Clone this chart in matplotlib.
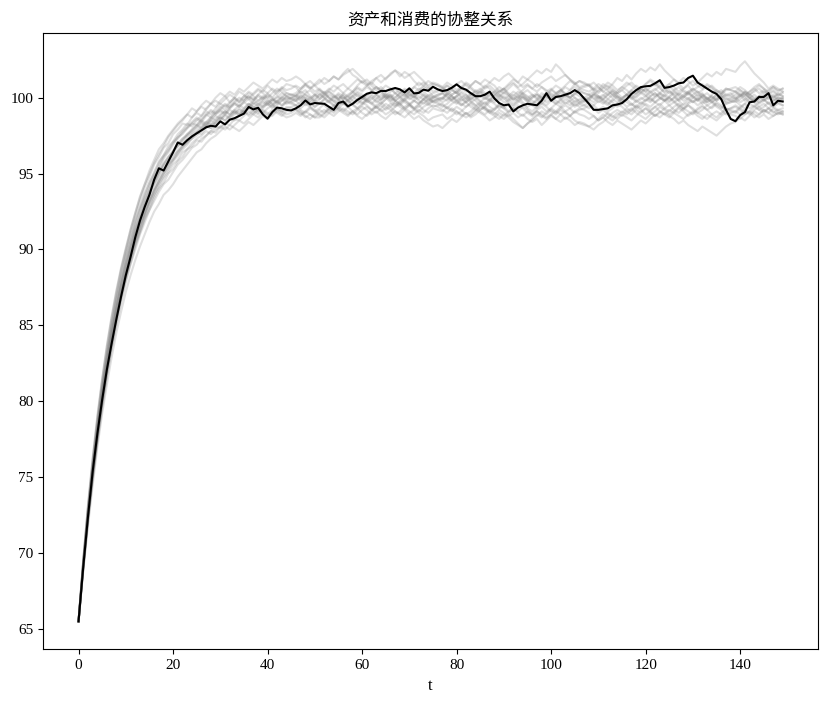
import numpy as np
import matplotlib
matplotlib.use("Agg")
import matplotlib.pyplot as plt

plt.rcParams['font.family'] = ['Liberation Serif', 'Noto Sans CJK SC', 'DejaVu Sans']

title = "资产和消费的协整关系"
xlabel = "t"

# highlighted path
black_path = [
    65.5, 69.1, 72.4, 75.4, 77.9, 80.1, 82.1, 83.8, 85.4, 86.9,
    88.3, 89.5, 90.8, 91.9, 92.8, 93.6, 94.6, 95.35, 95.2, 95.8,
    96.4, 97.05, 96.9, 97.2, 97.45, 97.65, 97.85, 98.05, 98.15, 98.1,
    98.44, 98.24, 98.55, 98.65, 98.8, 98.95, 99.39, 99.23, 99.34, 98.9,
    98.62, 99.05, 99.35, 99.3, 99.2, 99.16, 99.3, 99.5, 99.82, 99.56,
    99.65, 99.62, 99.6, 99.4, 99.2, 99.65, 99.75, 99.43, 99.6, 99.85,
    100.05, 100.26, 100.35, 100.3, 100.45, 100.44, 100.55, 100.64, 100.55, 100.35,
    100.62, 100.28, 100.32, 100.53, 100.46, 100.72, 100.55, 100.44, 100.5, 100.66,
    100.88, 100.64, 100.53, 100.3, 100.1, 100.1, 100.2, 100.4, 99.95, 99.65,
    99.5, 99.55, 99.1, 99.35, 99.5, 99.6, 99.55, 99.5, 99.8, 100.3,
    99.8, 100.05, 100.1, 100.2, 100.3, 100.5, 100.3, 99.95, 99.6, 99.2,
    99.2, 99.25, 99.3, 99.5, 99.55, 99.65, 99.9, 100.25, 100.5, 100.7,
    100.75, 100.78, 100.95, 101.15, 100.65, 100.7, 100.8, 100.95, 101.0, 101.3,
    101.45, 101.0, 100.8, 100.6, 100.4, 100.25, 99.9, 99.2, 98.6, 98.45,
    98.85, 99.05, 99.7, 99.75, 100.05, 100.05, 100.3, 99.5, 99.8, 99.75,
]

# the grey paths (estimated, individual lines can't be told apart exactly)
g01 = [65.5, 69.5, 73.0, 76.1, 78.9, 81.3, 83.4, 85.3, 87.0, 88.6, 89.9, 91.1, 92.2, 93.2, 94.1,
       94.8, 95.6, 96.1, 96.7, 97.0, 97.6, 97.9, 98.3, 98.2, 98.7, 99.0, 98.8, 99.3, 99.6, 99.4,
       99.8, 100.1, 99.7, 100.0, 100.4, 100.2, 99.9, 100.3, 100.6, 100.4, 100.8, 100.5, 100.2, 100.6, 100.9, 100.8,
       100.7, 100.3, 100.5, 100.1, 99.8, 100.2, 100.4, 100.0, 99.7, 99.9, 100.3, 100.6, 100.4, 100.8, 101.1,
       100.9, 100.5, 100.7, 100.4, 100.0, 100.2, 99.8, 99.6, 99.9, 100.2, 100.0, 100.4, 100.7, 100.5, 100.1, 100.0,
       99.9, 100.3, 100.1, 99.7, 99.5, 99.8, 100.1, 100.5, 100.3, 100.7, 101.0, 100.8, 100.4, 100.6, 100.2,
       99.9, 100.1, 99.7, 99.4, 99.6, 99.9, 100.3, 100.1, 100.5, 100.8, 100.6, 100.2, 100.0, 100.3, 100.1, 99.9,
       99.8, 100.2, 100.5, 100.9, 100.7, 100.4, 100.1, 99.8, 100.0, 100.4, 100.2, 100.6, 100.9, 101.2, 101.0,
       100.7, 100.3, 100.5, 100.1, 99.8, 100.0, 100.3, 100.6, 100.4, 100.0, 99.7, 99.9, 100.2, 100.0, 99.6, 99.7,
       99.8, 100.1, 100.4, 100.2, 100.5, 100.8, 100.6, 100.3, 100.5, 100.2, 100.4]
g02 = [65.5, 69.3, 72.6, 75.5, 78.2, 80.6, 82.6, 84.6, 86.2, 87.7, 89.1, 90.2, 91.4, 92.3, 93.3,
       94.0, 94.8, 95.3, 96.0, 96.4, 96.9, 97.4, 97.6, 98.0, 98.3, 98.2, 98.6, 98.9, 98.7, 99.1,
       99.4, 99.2, 99.6, 99.9, 99.7, 100.1, 100.0, 99.8, 100.2, 100.5, 100.3, 100.0, 100.4, 100.6, 100.3, 100.2,
       100.1, 100.5, 100.8, 100.6, 100.9, 101.2, 100.9, 101.1, 101.4, 101.2, 101.6, 101.9, 101.5, 101.3, 101.0,
       101.2, 100.9, 101.3, 101.5, 101.2, 101.6, 101.8, 101.4, 101.7, 101.5, 101.1, 100.8, 101.0, 100.7, 100.4, 100.5,
       100.6, 100.2, 99.9, 100.1, 100.4, 100.2, 99.8, 99.5, 99.7, 100.0, 99.8, 100.2, 100.5, 100.3, 100.6,
       100.9, 100.6, 100.3, 100.0, 100.2, 99.9, 99.6, 99.9, 100.3, 100.1, 100.4, 100.7, 100.5, 100.9, 101.1, 101.0,
       100.8, 101.0, 100.7, 100.4, 100.6, 100.9, 101.3, 101.1, 101.5, 101.2, 101.6, 101.9, 101.7, 102.0, 101.8,
       102.2, 101.8, 101.5, 101.2, 100.9, 100.6, 100.8, 100.4, 100.1, 100.3, 99.9, 99.7, 100.0, 100.3, 100.1, 100.2,
       100.4, 100.2, 99.8, 100.0, 99.7, 99.9, 100.2, 99.9, 100.1, 99.8, 100.0]
g03 = [65.5, 69.0, 72.2, 75.0, 77.5, 79.8, 81.8, 83.6, 85.2, 86.7, 88.0, 89.1, 90.2, 91.1, 92.0,
       92.6, 93.4, 94.0, 94.4, 95.0, 95.3, 95.8, 96.1, 96.6, 96.8, 97.2, 97.1, 97.5, 97.8, 97.7,
       98.1, 98.3, 98.2, 98.6, 98.5, 98.8, 99.1, 98.9, 99.2, 99.0, 99.3, 99.5, 99.2, 99.4, 99.7, 99.6,
       99.5, 99.2, 99.0, 99.3, 99.1, 98.8, 99.0, 99.3, 99.1, 99.4, 99.2, 98.9, 99.1, 98.8, 98.6,
       98.9, 99.2, 99.0, 99.3, 99.6, 99.4, 99.1, 98.9, 99.2, 98.9, 98.6, 98.8, 98.5, 98.3, 98.1, 98.2,
       98.0, 98.3, 98.6, 98.4, 98.7, 99.0, 98.8, 99.1, 99.4, 99.2, 99.0, 98.8, 98.6, 98.9, 98.7,
       98.4, 98.2, 98.0, 98.3, 98.6, 98.9, 98.7, 99.0, 99.3, 99.1, 99.4, 99.7, 99.5, 99.8, 99.6, 99.5,
       99.3, 99.5, 99.8, 99.6, 99.9, 100.2, 100.0, 99.7, 99.9, 99.6, 99.4, 99.7, 99.5, 99.2, 99.4,
       99.1, 98.9, 99.2, 99.0, 99.3, 99.1, 98.8, 99.0, 99.3, 99.5, 99.2, 99.4, 99.7, 99.5, 99.2, 99.1,
       99.0, 99.3, 99.1, 98.9, 99.2, 99.4, 99.1, 99.3, 99.0, 99.2, 99.1]
g04 = [65.5, 69.6, 73.2, 76.3, 79.1, 81.5, 83.7, 85.6, 87.3, 88.8, 90.1, 91.3, 92.4, 93.4, 94.3,
       95.0, 95.7, 96.3, 96.8, 97.4, 97.8, 98.2, 98.5, 98.9, 98.7, 99.1, 99.4, 99.2, 99.6, 99.8,
       99.6, 99.9, 100.2, 100.0, 99.7, 99.9, 100.3, 100.1, 99.8, 100.0, 99.7, 99.5, 99.8, 100.1, 99.9, 100.0,
       100.2, 100.0, 99.7, 99.5, 99.8, 99.6, 99.9, 100.2, 100.0, 100.3, 100.1, 99.8, 100.1, 100.4, 100.2,
       99.9, 100.1, 99.8, 99.6, 99.9, 100.2, 100.0, 100.3, 100.6, 100.4, 100.1, 99.9, 100.2, 100.0, 99.7, 99.8,
       99.9, 100.2, 100.5, 100.3, 100.6, 100.4, 100.8, 101.1, 100.9, 100.6, 100.8, 100.5, 100.3, 100.6, 100.9,
       101.2, 101.0, 101.4, 101.2, 101.5, 101.8, 101.6, 101.9, 101.7, 102.2, 101.9, 101.5, 101.2, 100.9, 101.1, 100.9,
       100.8, 100.5, 100.7, 100.4, 100.2, 100.5, 100.3, 100.0, 100.2, 100.5, 100.8, 100.6, 100.9, 101.1, 100.8,
       101.0, 100.7, 100.9, 101.2, 101.0, 101.3, 101.1, 100.8, 101.0, 101.3, 101.6, 101.4, 101.7, 101.5, 101.9, 101.8,
       101.7, 102.1, 102.4, 102.0, 101.6, 101.3, 101.0, 100.6, 100.8, 100.6, 100.4]
g05 = [65.5, 69.1, 72.3, 75.2, 77.8, 80.1, 82.2, 84.0, 85.6, 87.1, 88.4, 89.6, 90.6, 91.6, 92.4,
       93.2, 93.8, 94.5, 95.0, 95.4, 95.9, 96.3, 96.8, 97.0, 97.4, 97.7, 97.6, 98.0, 98.3, 98.2,
       98.5, 98.8, 98.6, 98.9, 99.2, 99.0, 99.3, 99.6, 99.4, 99.7, 99.5, 99.8, 100.1, 99.9, 99.6, 99.7,
       99.8, 100.1, 99.9, 99.6, 99.4, 99.7, 99.5, 99.2, 99.4, 99.7, 100.0, 99.8, 99.5, 99.3, 99.6,
       99.9, 100.2, 100.0, 99.8, 100.1, 99.9, 99.6, 99.4, 99.2, 99.5, 99.3, 99.6, 99.9, 99.7, 100.0, 100.2,
       100.3, 100.1, 99.8, 99.6, 99.9, 99.7, 99.4, 99.2, 99.5, 99.3, 99.0, 99.2, 99.5, 99.3, 99.6,
       99.4, 99.7, 100.0, 99.8, 99.5, 99.3, 99.6, 99.4, 99.1, 98.9, 99.2, 99.0, 98.8, 99.1, 98.9, 98.8,
       98.6, 98.8, 98.5, 98.7, 98.4, 98.2, 98.5, 98.3, 98.1, 97.9, 98.2, 98.5, 98.3, 98.6, 98.9,
       98.7, 99.0, 98.8, 98.6, 98.3, 98.5, 98.2, 98.0, 97.8, 98.1, 97.9, 97.7, 97.5, 97.8, 98.1, 98.3,
       98.4, 98.7, 98.5, 98.8, 99.1, 98.9, 99.2, 99.0, 99.3, 99.1, 99.0]
g06 = [65.5, 68.9, 72.0, 74.8, 77.3, 79.5, 81.6, 83.4, 85.0, 86.5, 87.8, 89.0, 90.0, 91.0, 91.8,
       92.6, 93.2, 93.8, 94.3, 94.6, 95.1, 95.6, 95.9, 96.3, 96.7, 96.9, 97.3, 97.5, 97.8, 98.1,
       98.0, 98.3, 98.6, 98.5, 98.8, 99.1, 98.9, 99.2, 99.0, 99.3, 99.6, 99.4, 99.7, 99.5, 99.8, 100.0,
       100.1, 99.9, 100.2, 100.0, 99.7, 99.9, 100.2, 100.0, 99.8, 99.5, 99.7, 99.4, 99.6, 99.9, 99.7,
       99.5, 99.2, 99.4, 99.1, 99.3, 99.6, 99.4, 99.7, 99.9, 99.6, 99.8, 100.1, 99.9, 99.6, 99.4, 99.5,
       99.6, 99.3, 99.1, 99.4, 99.2, 98.9, 99.1, 99.4, 99.6, 99.3, 99.1, 98.9, 99.2, 99.0, 98.8,
       99.0, 98.7, 98.9, 98.6, 98.4, 98.6, 98.2, 98.5, 98.8, 98.6, 98.9, 99.1, 98.8, 98.5, 98.3, 98.2,
       98.1, 97.9, 98.2, 98.4, 98.7, 98.5, 98.8, 99.1, 98.9, 99.2, 99.5, 99.3, 99.6, 99.4, 99.7,
       100.0, 99.8, 99.5, 99.7, 99.4, 99.6, 99.9, 99.7, 100.0, 99.8, 99.5, 99.3, 99.6, 99.4, 99.2, 99.3,
       99.5, 99.3, 99.6, 99.9, 99.7, 99.4, 99.6, 99.3, 99.5, 99.7, 99.5]
g07 = [65.5, 69.5, 73.1, 76.2, 78.9, 81.4, 83.6, 85.5, 87.2, 88.7, 90.0, 91.3, 92.4, 93.5, 94.3,
       95.2, 95.9, 96.6, 97.0, 97.5, 97.9, 98.3, 98.6, 98.9, 99.3, 99.1, 99.5, 99.8, 99.6, 100.0,
       100.3, 100.1, 100.4, 100.2, 100.6, 100.4, 100.7, 101.0, 100.8, 100.6, 100.9, 101.2, 101.0, 101.3, 101.1, 101.2,
       101.4, 101.2, 100.9, 100.6, 100.8, 100.5, 100.2, 100.4, 100.1, 99.9, 100.2, 100.0, 100.3, 100.6, 100.4,
       100.7, 100.5, 100.2, 100.4, 100.1, 99.8, 100.0, 100.3, 100.1, 100.4, 100.7, 100.5, 100.8, 100.6, 100.9, 100.8,
       100.7, 101.0, 100.8, 100.5, 100.7, 101.0, 100.8, 101.1, 100.9, 101.2, 101.0, 101.3, 101.1, 101.4, 101.6,
       101.3, 101.0, 100.7, 100.9, 100.6, 100.4, 100.7, 100.5, 100.2, 100.0, 100.3, 100.1, 99.8, 100.0, 99.7, 99.8,
       99.9, 100.2, 100.0, 99.7, 99.5, 99.8, 100.1, 99.9, 100.2, 100.5, 100.3, 100.6, 100.4, 100.1, 100.3,
       100.0, 99.8, 100.1, 100.4, 100.2, 100.5, 100.3, 100.0, 99.8, 100.1, 99.9, 100.2, 100.5, 100.3, 100.6, 100.5,
       100.4, 100.1, 100.3, 100.0, 99.8, 100.1, 100.4, 100.2, 100.0, 100.3, 100.1]
g08 = [65.5, 69.2, 72.5, 75.4, 78.0, 80.3, 82.4, 84.3, 85.9, 87.4, 88.7, 89.9, 91.0, 91.9, 92.8,
       93.6, 94.3, 94.9, 95.5, 95.9, 96.4, 96.8, 97.1, 97.5, 97.7, 98.0, 98.3, 98.1, 98.5, 98.8,
       98.6, 98.9, 99.2, 99.0, 99.3, 99.1, 99.4, 99.7, 99.5, 99.8, 99.6, 99.3, 99.5, 99.8, 100.0, 99.9,
       99.8, 99.5, 99.7, 100.0, 100.2, 99.9, 100.1, 100.4, 100.2, 99.9, 100.1, 99.8, 99.6, 99.9, 100.1,
       99.8, 99.6, 99.9, 100.2, 100.0, 99.7, 99.5, 99.8, 100.0, 100.3, 100.1, 99.8, 99.6, 99.9, 99.7, 99.6,
       99.4, 99.6, 99.9, 100.1, 99.8, 100.0, 100.3, 100.1, 99.8, 99.6, 99.9, 100.2, 100.0, 99.7, 99.9,
       100.2, 100.0, 100.3, 100.5, 100.2, 100.0, 99.8, 100.1, 99.9, 99.6, 99.8, 100.1, 100.3, 100.0, 99.8, 99.9,
       100.0, 100.3, 100.1, 99.8, 99.6, 99.9, 99.7, 100.0, 100.2, 99.9, 100.1, 100.4, 100.2, 99.9, 99.7,
       99.9, 100.2, 100.0, 99.7, 99.9, 100.2, 100.4, 100.1, 99.9, 99.6, 99.8, 100.1, 99.9, 100.2, 100.0, 99.8,
       99.7, 99.9, 100.2, 100.0, 99.8, 100.1, 99.9, 99.6, 99.8, 100.0, 99.9]
g09 = [65.5, 69.0, 72.3, 75.1, 77.7, 80.0, 82.0, 83.9, 85.5, 87.0, 88.3, 89.5, 90.5, 91.5, 92.3,
       93.1, 93.9, 94.4, 95.0, 95.6, 95.9, 96.4, 96.7, 97.1, 97.3, 97.7, 97.9, 98.2, 98.0, 98.4,
       98.7, 98.5, 98.8, 99.1, 98.9, 99.1, 98.8, 99.0, 99.3, 99.1, 98.9, 99.2, 99.0, 98.8, 99.1, 99.2,
       99.3, 99.1, 98.8, 98.6, 98.9, 99.2, 99.0, 99.3, 99.5, 99.2, 99.0, 98.8, 99.1, 99.3, 99.0,
       98.8, 99.1, 99.4, 99.2, 98.9, 99.1, 99.4, 99.6, 99.3, 99.1, 98.9, 99.2, 99.0, 99.3, 99.5, 99.4,
       99.2, 99.0, 99.3, 99.1, 98.8, 99.0, 98.7, 98.9, 99.2, 99.4, 99.1, 99.3, 99.6, 99.4, 99.1,
       99.3, 99.0, 98.8, 99.1, 98.9, 99.2, 99.4, 99.1, 99.3, 99.6, 99.4, 99.1, 99.3, 99.0, 99.2, 99.3,
       99.5, 99.3, 99.0, 99.2, 98.9, 98.7, 99.0, 98.8, 99.1, 99.3, 99.0, 98.8, 98.6, 98.9, 99.1,
       99.4, 99.2, 98.9, 99.1, 99.4, 99.2, 99.5, 99.3, 99.0, 99.2, 99.5, 99.7, 99.4, 99.2, 98.9, 99.0,
       99.1, 98.9, 99.2, 99.0, 98.7, 98.9, 99.2, 99.0, 98.8, 99.0, 98.9]
g10 = [65.5, 69.4, 72.9, 75.9, 78.6, 81.0, 83.1, 85.0, 86.7, 88.2, 89.6, 90.8, 91.9, 92.8, 93.7,
       94.4, 95.1, 95.8, 96.2, 96.8, 97.1, 97.6, 97.9, 98.3, 98.1, 98.5, 98.8, 99.1, 98.9, 99.3,
       99.6, 99.4, 99.7, 100.0, 99.8, 100.1, 100.4, 100.2, 100.5, 100.3, 100.0, 100.3, 100.6, 100.4, 100.1, 100.2,
       100.3, 100.6, 100.9, 100.7, 100.4, 100.6, 100.3, 100.5, 100.8, 100.6, 100.3, 100.1, 100.4, 100.7, 100.5,
       100.8, 101.0, 100.7, 100.5, 100.8, 100.6, 100.3, 100.5, 100.2, 100.4, 100.7, 101.0, 100.8, 101.1, 100.9, 100.8,
       100.6, 100.8, 100.5, 100.3, 100.6, 100.9, 100.7, 100.4, 100.6, 100.3, 100.1, 100.4, 100.2, 99.9, 100.1,
       100.4, 100.2, 100.5, 100.8, 100.6, 100.9, 100.7, 100.4, 100.6, 100.3, 100.5, 100.8, 101.1, 100.9, 100.6, 100.7,
       100.8, 100.5, 100.3, 100.6, 100.8, 100.6, 100.3, 100.5, 100.8, 101.0, 100.7, 100.4, 100.6, 100.3, 100.5,
       100.8, 100.6, 100.3, 100.5, 100.7, 100.4, 100.2, 100.5, 100.7, 100.9, 100.6, 100.8, 100.5, 100.3, 100.6, 100.5,
       100.4, 100.7, 100.5, 100.2, 100.4, 100.6, 100.3, 100.5, 100.7, 100.4, 100.6]
g11 = [65.5, 69.2, 72.4, 75.3, 77.9, 80.2, 82.3, 84.1, 85.8, 87.2, 88.5, 89.7, 90.7, 91.7, 92.5,
       93.3, 94.0, 94.7, 95.2, 95.7, 96.2, 96.5, 96.9, 97.3, 97.6, 97.8, 98.1, 98.4, 98.2, 98.6,
       98.9, 99.1, 98.9, 99.2, 99.5, 99.3, 99.6, 99.4, 99.2, 99.5, 99.8, 99.6, 99.3, 99.1, 99.4, 99.3,
       99.2, 98.9, 99.1, 99.4, 99.2, 98.9, 98.7, 99.0, 99.3, 99.5, 99.8, 99.6, 99.9, 100.2, 100.0,
       99.7, 99.9, 100.2, 100.0, 100.3, 100.1, 99.8, 99.6, 99.3, 99.5, 99.2, 99.4, 99.7, 99.5, 99.8, 99.9,
       100.0, 99.8, 100.1, 99.9, 99.6, 99.4, 99.7, 99.5, 99.2, 99.4, 99.7, 99.9, 100.2, 100.0, 99.7,
       99.5, 99.8, 99.6, 99.3, 99.1, 99.4, 99.7, 99.5, 99.8, 100.1, 99.9, 99.6, 99.8, 99.5, 99.7, 99.8,
       100.0, 100.2, 99.9, 100.1, 100.4, 100.2, 99.9, 99.7, 99.4, 99.6, 99.3, 99.5, 99.8, 100.0, 99.7,
       99.5, 99.8, 100.0, 99.8, 99.5, 99.3, 99.6, 99.8, 99.5, 99.7, 100.0, 99.8, 99.5, 99.3, 99.6, 99.7,
       99.8, 99.5, 99.3, 99.6, 99.4, 99.7, 99.9, 99.6, 99.4, 99.6, 99.5]
g12 = [65.5, 69.4, 72.8, 75.8, 78.5, 80.9, 83.0, 84.9, 86.6, 88.1, 89.5, 90.6, 91.8, 92.7, 93.6,
       94.4, 95.0, 95.7, 96.2, 96.6, 97.1, 97.4, 97.8, 98.1, 98.4, 98.7, 98.5, 98.9, 99.2, 99.0,
       99.3, 99.6, 99.4, 99.7, 100.0, 99.8, 100.1, 99.9, 99.6, 99.9, 100.1, 99.8, 100.0, 100.3, 100.1, 99.9,
       99.8, 100.0, 100.3, 100.5, 100.2, 100.0, 100.3, 100.6, 100.4, 100.7, 100.9, 100.6, 100.9, 101.2, 101.0,
       100.8, 101.1, 101.3, 101.0, 101.3, 101.5, 101.8, 101.6, 101.3, 101.5, 101.7, 101.4, 101.1, 100.8, 101.0, 100.9,
       100.7, 100.4, 100.6, 100.3, 100.0, 100.2, 99.9, 100.1, 100.4, 100.2, 99.9, 99.7, 100.0, 100.3, 100.1,
       99.8, 100.0, 100.3, 100.1, 99.8, 99.6, 99.9, 100.2, 100.0, 100.3, 100.5, 100.2, 100.0, 99.7, 99.9, 100.0,
       100.2, 100.0, 99.7, 99.9, 100.2, 100.4, 100.1, 99.9, 100.2, 100.0, 99.7, 99.9, 100.1, 99.8, 100.1,
       100.3, 100.1, 99.8, 100.0, 100.3, 100.1, 99.9, 100.2, 100.4, 100.2, 99.9, 100.1, 99.8, 100.0, 100.2, 100.1,
       99.9, 100.1, 100.4, 100.2, 100.0, 99.7, 99.9, 100.1, 99.8, 100.0, 99.9]
g13 = [65.5, 69.1, 72.4, 75.2, 77.8, 80.1, 82.1, 84.0, 85.7, 87.1, 88.4, 89.6, 90.6, 91.6, 92.4,
       93.2, 93.9, 94.5, 95.1, 95.6, 96.0, 96.5, 96.8, 97.1, 97.5, 97.7, 98.0, 98.2, 98.5, 98.3,
       98.6, 98.9, 98.7, 99.0, 98.8, 99.1, 99.3, 99.1, 98.9, 99.2, 99.0, 98.8, 99.1, 98.9, 98.7, 98.8,
       99.0, 98.8, 99.1, 98.9, 98.7, 98.7, 98.9, 99.2, 99.0, 99.3, 99.1, 99.4, 99.6, 99.3, 99.5,
       99.8, 99.6, 99.3, 99.5, 99.2, 99.4, 99.7, 99.5, 99.8, 99.6, 99.3, 99.5, 99.2, 99.0, 99.3, 99.2,
       99.1, 99.4, 99.2, 98.9, 99.1, 99.4, 99.6, 99.3, 99.1, 98.9, 99.2, 99.0, 98.8, 98.6, 98.9,
       98.6, 98.3, 98.0, 98.3, 98.5, 98.8, 99.1, 98.9, 99.2, 99.0, 99.3, 99.5, 99.3, 99.6, 99.4, 99.5,
       99.7, 99.5, 99.2, 99.4, 99.1, 99.3, 99.6, 99.4, 99.1, 98.9, 99.2, 99.0, 99.3, 99.1, 98.8,
       99.0, 99.3, 99.1, 99.4, 99.6, 99.3, 99.5, 99.2, 99.0, 98.8, 98.6, 98.9, 99.1, 98.9, 99.2, 99.3,
       99.4, 99.2, 98.9, 99.1, 99.4, 99.2, 99.0, 99.3, 99.1, 98.9, 99.1]
g14 = [65.5, 69.3, 72.7, 75.6, 78.2, 80.6, 82.7, 84.5, 86.2, 87.7, 89.0, 90.2, 91.3, 92.2, 93.1,
       93.9, 94.6, 95.1, 95.7, 96.1, 96.5, 97.0, 97.3, 97.6, 97.9, 98.2, 98.5, 98.3, 98.7, 99.0,
       99.2, 99.0, 99.4, 99.7, 99.5, 99.8, 100.1, 99.9, 100.2, 100.0, 100.3, 100.6, 100.4, 100.7, 100.5, 100.6,
       100.8, 100.6, 100.9, 101.1, 100.8, 101.0, 101.3, 101.1, 101.4, 101.2, 101.5, 101.7, 101.9, 101.6, 101.3,
       101.0, 100.8, 100.5, 100.7, 100.4, 100.6, 100.3, 100.0, 100.2, 99.9, 100.1, 100.4, 100.2, 99.9, 100.1, 100.2,
       100.3, 100.0, 99.8, 100.1, 100.3, 100.0, 99.7, 99.9, 100.2, 100.0, 99.8, 100.1, 100.4, 100.6, 100.3,
       100.1, 100.4, 100.2, 99.9, 100.1, 100.3, 100.0, 100.2, 100.5, 100.3, 100.0, 100.2, 100.5, 100.7, 100.4, 100.3,
       100.2, 100.4, 100.1, 99.9, 100.2, 100.0, 100.3, 100.5, 100.2, 100.0, 100.3, 100.6, 100.4, 100.7, 100.9,
       100.6, 100.4, 100.7, 100.5, 100.2, 100.0, 100.3, 100.1, 99.8, 100.1, 100.3, 100.0, 99.8, 100.1, 99.9, 100.0,
       100.2, 100.5, 100.3, 100.0, 100.2, 99.9, 100.1, 100.3, 100.0, 100.2, 100.1]
g15 = [65.5, 69.1, 72.3, 75.1, 77.6, 79.9, 82.0, 83.8, 85.4, 86.9, 88.2, 89.3, 90.4, 91.3, 92.2,
       93.0, 93.6, 94.3, 94.8, 95.3, 95.8, 96.2, 96.6, 96.9, 97.3, 97.5, 97.8, 98.1, 98.0, 98.4,
       98.7, 98.5, 98.8, 99.1, 98.9, 99.2, 99.5, 99.3, 99.6, 99.4, 99.7, 99.9, 99.6, 99.8, 100.1, 100.0,
       99.9, 100.2, 100.0, 99.7, 99.9, 100.2, 100.0, 99.7, 99.5, 99.8, 99.6, 99.9, 100.1, 99.8, 99.6,
       99.9, 99.7, 99.4, 99.6, 99.9, 100.1, 99.8, 100.0, 99.7, 99.5, 99.8, 99.6, 99.9, 100.2, 100.0, 99.9,
       99.7, 99.9, 100.2, 100.4, 100.1, 99.9, 100.2, 100.0, 99.7, 99.5, 99.8, 99.6, 99.3, 99.5, 99.8,
       100.0, 99.8, 100.1, 99.9, 99.6, 99.8, 100.1, 100.3, 100.1, 99.8, 99.6, 99.9, 99.7, 99.4, 99.6, 99.7,
       99.9, 99.7, 100.0, 100.2, 99.9, 99.7, 99.4, 99.6, 99.9, 100.1, 99.8, 99.6, 99.9, 99.7, 100.0,
       100.2, 99.9, 99.7, 100.0, 99.8, 99.5, 99.7, 100.0, 100.2, 100.0, 99.7, 99.9, 100.2, 99.9, 99.7, 99.8,
       99.9, 100.2, 100.0, 99.7, 99.9, 99.6, 99.8, 100.1, 99.9, 99.7, 99.8]
g16 = [65.5, 69.4, 72.8, 75.8, 78.5, 80.8, 82.9, 84.8, 86.5, 88.0, 89.3, 90.5, 91.6, 92.6, 93.4,
       94.2, 94.9, 95.5, 96.1, 96.5, 97.0, 97.3, 97.7, 98.0, 98.3, 98.6, 98.4, 98.8, 99.1, 98.9,
       99.2, 99.5, 99.3, 99.6, 99.4, 99.7, 99.9, 99.6, 99.8, 100.1, 99.9, 99.6, 99.8, 99.5, 99.7, 99.8,
       100.0, 99.8, 99.5, 99.7, 99.4, 99.6, 99.9, 99.7, 100.0, 100.2, 99.9, 100.1, 99.8, 99.6, 99.9,
       100.1, 100.4, 100.2, 99.9, 100.1, 100.4, 100.6, 100.3, 100.5, 100.2, 100.0, 100.3, 100.1, 99.8, 100.0, 100.1,
       100.3, 100.5, 100.2, 100.4, 100.7, 100.5, 100.2, 100.4, 100.1, 99.9, 100.2, 100.4, 100.7, 100.5, 100.8,
       101.0, 100.7, 100.9, 101.2, 101.0, 100.7, 101.0, 101.2, 101.4, 101.1, 101.3, 101.5, 101.2, 101.0, 100.7, 100.8,
       100.9, 100.6, 100.4, 100.7, 100.5, 100.2, 100.4, 100.7, 100.5, 100.2, 100.0, 100.3, 100.1, 100.4, 100.6,
       100.3, 100.1, 100.4, 100.2, 99.9, 100.1, 100.4, 100.6, 100.3, 100.5, 100.8, 100.6, 100.3, 100.5, 100.2, 100.3,
       100.0, 100.3, 100.1, 100.4, 100.6, 100.3, 100.5, 100.2, 100.4, 100.1, 100.3]
g17 = [65.5, 68.8, 71.8, 74.5, 77.0, 79.2, 81.1, 82.9, 84.5, 85.9, 87.2, 88.3, 89.3, 90.2, 91.0,
       91.8, 92.5, 93.0, 93.6, 93.9, 94.3, 94.8, 95.2, 95.6, 96.0, 96.4, 96.6, 97.0, 97.3, 97.5,
       97.8, 98.1, 97.9, 98.2, 98.5, 98.3, 98.6, 98.9, 98.7, 99.0, 98.8, 99.1, 99.3, 99.1, 98.9, 99.0,
       99.2, 99.0, 98.7, 98.9, 98.7, 99.0, 99.2, 99.0, 98.8, 99.1, 99.3, 99.1, 98.9, 99.2, 99.4,
       99.2, 98.9, 99.1, 98.8, 98.6, 98.9, 99.1, 98.9, 98.7, 99.0, 99.2, 99.0, 98.8, 98.5, 98.7, 98.8,
       98.9, 98.6, 98.8, 99.1, 98.9, 98.7, 98.9, 99.2, 99.0, 98.8, 98.5, 98.7, 99.0, 98.8, 99.1,
       99.3, 99.1, 99.4, 99.2, 98.9, 99.1, 98.8, 98.6, 98.9, 99.1, 98.9, 98.6, 98.8, 99.1, 99.3, 99.2,
       99.0, 98.8, 98.5, 98.7, 99.0, 98.8, 98.6, 98.9, 98.7, 98.5, 98.8, 99.1, 99.3, 99.0, 98.8,
       99.1, 98.9, 98.7, 99.0, 98.8, 98.6, 98.9, 99.1, 98.8, 98.6, 98.9, 98.7, 98.5, 98.8, 99.0, 98.9,
       98.8, 98.6, 98.9, 99.1, 98.9, 98.7, 98.9, 98.6, 98.8, 99.0, 98.9]
g18 = [65.5, 69.2, 72.6, 75.5, 78.1, 80.4, 82.5, 84.4, 86.0, 87.5, 88.8, 90.0, 91.1, 92.0, 92.9,
       93.7, 94.4, 95.0, 95.6, 96.0, 96.5, 96.8, 97.2, 97.6, 97.8, 98.1, 98.4, 98.2, 98.6, 98.9,
       99.1, 98.9, 99.3, 99.6, 99.4, 99.7, 99.5, 99.8, 100.1, 99.9, 100.2, 100.0, 99.7, 100.0, 100.3, 100.2,
       100.1, 100.4, 100.2, 99.9, 100.2, 100.5, 100.3, 100.0, 99.8, 100.1, 99.9, 100.2, 100.4, 100.1, 99.9,
       100.2, 100.4, 100.7, 100.5, 100.2, 100.0, 100.3, 100.1, 99.8, 100.1, 100.3, 100.6, 100.4, 100.1, 100.3, 100.4,
       100.5, 100.8, 100.6, 100.9, 101.1, 100.8, 100.6, 100.3, 100.5, 100.8, 100.6, 100.3, 100.1, 100.4, 100.2,
       99.9, 100.2, 100.0, 99.7, 100.0, 100.2, 100.0, 99.7, 99.9, 100.2, 100.5, 100.3, 100.0, 100.3, 100.6, 100.5,
       100.4, 100.6, 100.9, 100.7, 101.0, 100.8, 100.5, 100.7, 101.0, 100.8, 100.5, 100.3, 100.6, 100.4, 100.1,
       100.3, 100.6, 100.9, 100.7, 100.4, 100.6, 100.9, 101.1, 100.8, 100.6, 100.9, 100.7, 100.4, 100.2, 100.5, 100.6,
       100.7, 100.5, 100.2, 100.4, 100.7, 100.9, 100.6, 100.4, 100.7, 100.5, 100.6]
g19 = [65.5, 69.0, 72.2, 75.0, 77.5, 79.8, 81.8, 83.6, 85.3, 86.8, 88.1, 89.2, 90.3, 91.2, 92.1,
       92.8, 93.6, 94.1, 94.7, 95.1, 95.6, 95.9, 96.4, 96.6, 97.0, 97.3, 97.5, 97.8, 97.6, 97.9,
       98.1, 97.9, 98.2, 98.0, 97.8, 98.1, 98.4, 98.2, 98.5, 98.8, 98.6, 98.9, 99.2, 99.0, 99.3, 99.4,
       99.5, 99.3, 99.6, 99.4, 99.1, 99.3, 99.6, 99.8, 99.5, 99.3, 99.6, 99.4, 99.1, 98.9, 99.2,
       99.4, 99.2, 99.5, 99.7, 99.4, 99.2, 98.9, 99.1, 99.4, 99.6, 99.3, 99.1, 99.4, 99.6, 99.8, 99.7,
       99.5, 99.3, 99.6, 99.8, 99.5, 99.7, 100.0, 99.8, 99.5, 99.7, 99.4, 99.2, 99.5, 99.3, 99.0,
       99.2, 99.5, 99.3, 99.0, 98.8, 99.1, 98.9, 98.7, 98.9, 98.6, 98.4, 98.7, 98.5, 98.2, 98.4, 98.3,
       98.1, 98.3, 98.6, 98.9, 98.7, 99.0, 99.2, 99.0, 99.3, 99.1, 99.4, 99.2, 98.9, 99.1, 99.4,
       99.6, 99.3, 99.5, 99.2, 99.0, 99.3, 99.1, 98.9, 99.2, 99.4, 99.2, 98.9, 98.7, 99.0, 99.3, 99.2,
       99.1, 99.4, 99.6, 99.3, 99.5, 99.2, 99.4, 99.7, 99.4, 99.2, 99.3]
g20 = [65.5, 69.3, 72.6, 75.5, 78.2, 80.5, 82.6, 84.5, 86.1, 87.6, 88.9, 90.1, 91.2, 92.1, 93.0,
       93.8, 94.4, 95.1, 95.6, 96.1, 96.4, 96.9, 97.3, 97.5, 97.9, 98.2, 98.0, 98.4, 98.7, 98.5,
       98.8, 99.1, 98.9, 99.2, 99.0, 99.3, 99.6, 99.4, 99.1, 99.4, 99.6, 99.9, 99.7, 100.0, 99.8, 99.7,
       99.5, 99.7, 100.0, 99.8, 100.1, 100.3, 100.0, 99.8, 100.1, 99.9, 99.6, 99.8, 100.1, 100.3, 100.0,
       99.8, 100.0, 99.7, 99.9, 100.2, 100.0, 99.8, 100.1, 100.3, 100.0, 99.8, 99.6, 99.9, 100.1, 99.8, 99.9,
       100.0, 100.3, 100.1, 99.8, 100.0, 99.7, 99.9, 100.2, 100.4, 100.1, 100.3, 100.0, 99.8, 100.1, 99.9,
       99.6, 99.9, 100.1, 99.8, 100.0, 100.2, 99.9, 100.1, 99.8, 99.6, 99.9, 100.2, 100.0, 100.2, 100.5, 100.3,
       100.2, 99.9, 100.1, 99.9, 99.7, 99.4, 99.6, 99.9, 99.7, 99.5, 99.8, 100.0, 99.8, 100.1, 100.3,
       100.0, 99.8, 100.0, 100.3, 100.1, 99.8, 100.0, 99.7, 99.9, 100.2, 100.0, 99.7, 99.9, 100.1, 99.8, 99.9,
       100.0, 99.7, 99.9, 100.2, 99.9, 100.1, 99.8, 100.0, 100.2, 99.9, 100.0]

grey_paths = [g01, g02, g03, g04, g05, g06, g07, g08, g09, g10,
              g11, g12, g13, g14, g15, g16, g17, g18, g19, g20]

fig = plt.figure(figsize=(8.27, 7.02), dpi=100)
ax = fig.add_axes([0.0524, 0.075, 0.9366, 0.8776])

for p in grey_paths:
    ax.plot(np.arange(len(p)), p, color='grey', alpha=0.25, lw=1.5)
ax.plot(np.arange(len(black_path)), black_path, color='black', lw=1.5)

ax.set_title(title, fontsize=12)
ax.set_xlabel(xlabel, fontsize=12)
ax.tick_params(labelsize=11)

fig.savefig("out.png", dpi=100)
